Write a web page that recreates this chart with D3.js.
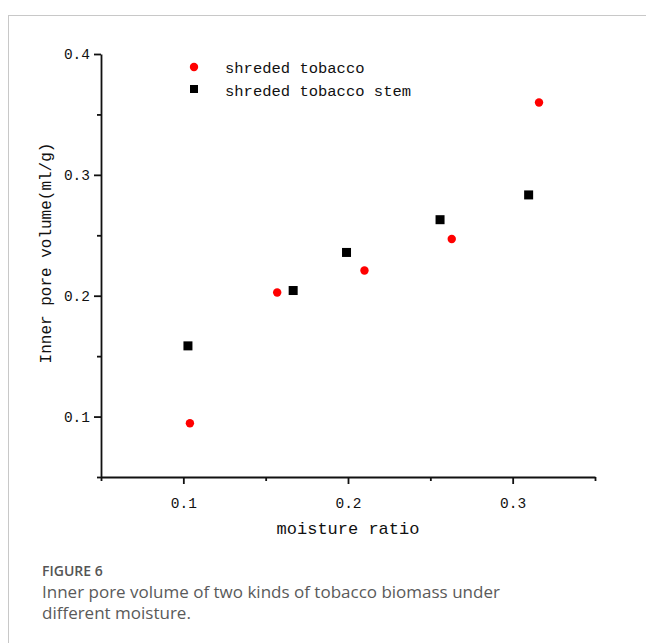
<!DOCTYPE html>
<html>
<head>
<meta charset="utf-8">
<script src="https://cdn.jsdelivr.net/npm/d3@7"></script>
<style>
  body { margin: 0; background: #fff; }
  svg { display: block; }
</style>
</head>
<body>
<div id="chart"></div>
<script>
// data
var tobaccoX = [0.104, 0.157, 0.210, 0.263, 0.316];
var tobaccoY = [0.0945, 0.2027, 0.2209, 0.2469, 0.3599];
var stemX = [0.1028, 0.1667, 0.1991, 0.2559, 0.3097];
var stemY = [0.1585, 0.2043, 0.2358, 0.2629, 0.2834];
var seriesNames = ["shreded tobacco", "shreded tobacco stem"];
var xMajor = [0.1, 0.2, 0.3];
var xMinor = [0.05, 0.15, 0.25, 0.35];
var yMajor = [0.1, 0.2, 0.3, 0.4];
var yMinor = [0.05, 0.15, 0.25, 0.35];

var W = 646, H = 643;
var mono = "'Liberation Mono', 'DejaVu Sans Mono', monospace";

var svg = d3.select("#chart").append("svg")
    .attr("width", W)
    .attr("height", H);

// light frame of the figure panel
svg.append("rect")
    .attr("x", 8.5).attr("y", 15.5)
    .attr("width", 700).attr("height", 700)
    .attr("fill", "none")
    .attr("stroke", "#c8c8c8")
    .attr("stroke-width", 1);

// scales
var x = d3.scaleLinear().domain([0.05, 0.35]).range([101, 595]);
var y = d3.scaleLinear().domain([0.05, 0.4]).range([477, 54]);

// minor ticks first, then major axes on top
svg.append("g")
    .attr("transform", "translate(0,477)")
    .call(d3.axisBottom(x).tickValues(xMinor).tickSize(4).tickSizeOuter(0).tickFormat(""))
    .call(g => g.select(".domain").remove());
svg.append("g")
    .attr("transform", "translate(101,0)")
    .call(d3.axisLeft(y).tickValues(yMinor).tickSize(4).tickSizeOuter(0).tickFormat(""))
    .call(g => g.select(".domain").remove());

var xAxis = svg.append("g")
    .attr("transform", "translate(0,477)")
    .call(d3.axisBottom(x).tickValues(xMajor).tickSize(7).tickSizeOuter(0).tickPadding(14).tickFormat(d3.format(".1f")));
var yAxis = svg.append("g")
    .attr("transform", "translate(101,0)")
    .call(d3.axisLeft(y).tickValues(yMajor).tickSize(7).tickSizeOuter(0).tickPadding(4).tickFormat(d3.format(".1f")));

svg.selectAll(".tick line, .domain")
    .attr("stroke", "#111")
    .attr("stroke-width", 1.8);
svg.selectAll(".tick text")
    .attr("fill", "#111")
    .style("font-family", mono)
    .style("font-size", "14.5px");

// axis titles
svg.append("text")
    .attr("x", 348).attr("y", 534)
    .attr("text-anchor", "middle")
    .style("font-family", mono)
    .style("font-size", "17px")
    .attr("fill", "#111")
    .text("moisture ratio");

svg.append("text")
    .attr("transform", "translate(51,253) rotate(-90)")
    .attr("text-anchor", "middle")
    .style("font-family", mono)
    .style("font-size", "16px")
    .attr("fill", "#111")
    .text("Inner pore volume(ml/g)");

// points
var tobacco = tobaccoX.map((d, i) => ({x: d, y: tobaccoY[i]}));
var stem = stemX.map((d, i) => ({x: d, y: stemY[i]}));

svg.append("g").selectAll("circle")
    .data(tobacco)
    .enter().append("circle")
    .attr("cx", d => x(d.x))
    .attr("cy", d => y(d.y))
    .attr("r", 4.2)
    .attr("fill", "#ff0000");

svg.append("g").selectAll("rect")
    .data(stem)
    .enter().append("rect")
    .attr("x", d => x(d.x) - 4.5)
    .attr("y", d => y(d.y) - 4.5)
    .attr("width", 9)
    .attr("height", 9)
    .attr("fill", "#000");

// legend
var legend = svg.append("g");
legend.append("circle")
    .attr("cx", 194).attr("cy", 67).attr("r", 4.2)
    .attr("fill", "#ff0000");
legend.append("rect")
    .attr("x", 190).attr("y", 85).attr("width", 8).attr("height", 8)
    .attr("fill", "#000");
legend.selectAll("text")
    .data(seriesNames)
    .enter().append("text")
    .attr("x", 225)
    .attr("y", (d, i) => 73 + i * 23)
    .style("font-family", mono)
    .style("font-size", "15.5px")
    .attr("fill", "#111")
    .text(d => d);

// caption
svg.append("text")
    .attr("x", 42).attr("y", 576)
    .style("font-family", "'Open Sans', 'Noto Sans', sans-serif")
    .style("font-size", "14px")
    .style("font-weight", 600)
    .attr("fill", "#555")
    .text("FIGURE 6");

svg.append("text")
    .attr("x", 42).attr("y", 598)
    .style("font-family", "'Open Sans', 'Noto Sans', sans-serif")
    .style("font-size", "17px")
    .attr("fill", "#5a5a5a")
    .selectAll("tspan")
    .data(["Inner pore volume of two kinds of tobacco biomass under", "different moisture."])
    .enter().append("tspan")
    .attr("x", 42)
    .attr("dy", (d, i) => i === 0 ? 0 : 21)
    .text(d => d);
</script>
</body>
</html>
